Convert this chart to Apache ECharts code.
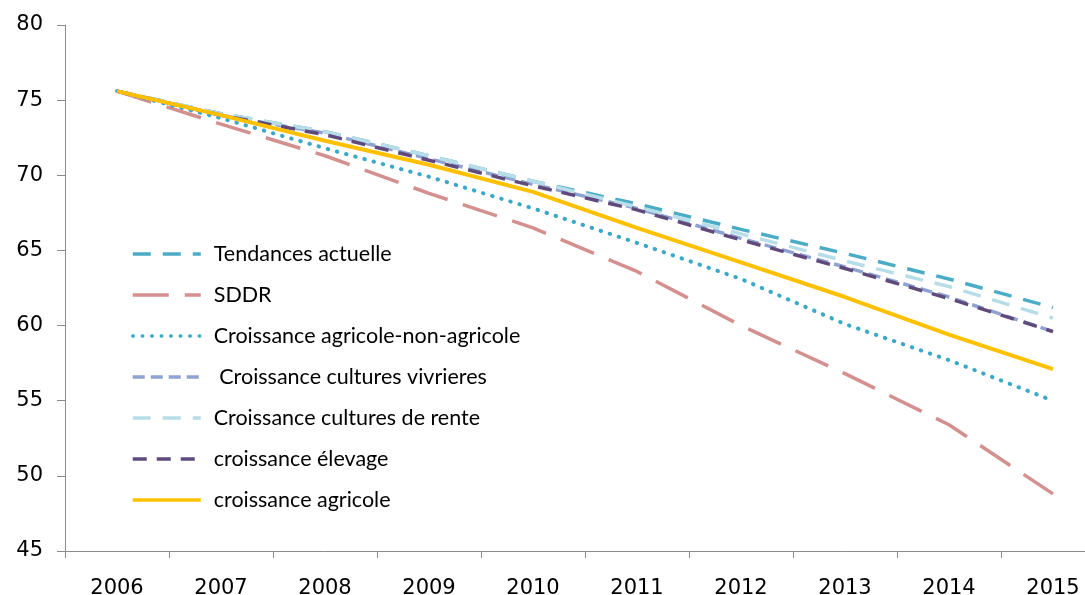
<!DOCTYPE html>
<html>
<head>
<meta charset="utf-8">
<script src="https://cdn.jsdelivr.net/npm/echarts@6/dist/echarts.min.js"></script>
<style>
html,body{margin:0;padding:0;background:#fff;overflow:hidden;width:1085px;height:595px;}
#chart{width:1110px;height:595px;}
</style>
</head>
<body>
<div id="chart"></div>
<script>
const years = ['2006','2007','2008','2009','2010','2011','2012','2013','2014','2015'];
const tendances = [75.6, 74.1, 72.9, 71.3, 69.6, 68.1, 66.4, 64.8, 63.1, 61.2];
const sddr = [75.6, 73.4, 71.3, 68.8, 66.5, 63.6, 60.0, 56.8, 53.4, 48.8];
const agriNonAgri = [75.6, 73.8, 71.8, 69.9, 67.8, 65.5, 63.1, 60.1, 57.7, 55.0];
const vivrieres = [75.6, 74.0, 72.8, 71.1, 69.4, 67.8, 65.8, 63.9, 61.9, 59.6];
const rente = [75.6, 74.1, 72.9, 71.3, 69.6, 67.9, 66.1, 64.3, 62.6, 60.5];
const elevage = [75.6, 74.0, 72.7, 71.0, 69.3, 67.7, 65.7, 63.8, 61.8, 59.6];
const agricole = [75.6, 74.0, 72.3, 70.7, 68.9, 66.5, 64.2, 61.9, 59.4, 57.1];
const yTicks = {min: 45, max: 80, interval: 5};

const names = ['Tendances actuelle','SDDR','Croissance agricole-non-agricole',' Croissance cultures vivrieres','Croissance cultures de rente','croissance élevage','croissance agricole'];

function mk(name, data, color, type, width, cap) {
  return {
    name: name, type: 'line', data: data, symbol: 'none', smooth: false,
    lineStyle: {color: color, width: width, type: type, cap: cap || 'butt'},
    itemStyle: {color: color},
    z: 2
  };
}

const chart = echarts.init(document.getElementById('chart'), null, {renderer: 'canvas', width: 1110, height: 595});
chart.setOption({
  animation: false,
  backgroundColor: '#ffffff',
  grid: {left: 65, top: 25, width: 1040, height: 526, containLabel: false, outerBoundsMode: 'none'},
  xAxis: {
    type: 'category', data: years, boundaryGap: true,
    axisLine: {lineStyle: {color: '#8c8c8c', width: 1}},
    axisTick: {show: true, length: 7, lineStyle: {color: '#8c8c8c'}, alignWithLabel: false},
    axisLabel: {color: '#000', fontSize: 21, fontFamily: '"DejaVu Sans", sans-serif', margin: 27}
  },
  yAxis: {
    type: 'value', min: yTicks.min, max: yTicks.max, interval: yTicks.interval,
    splitLine: {show: false},
    axisLine: {show: true, lineStyle: {color: '#8c8c8c', width: 1}},
    axisTick: {show: true, length: 8, lineStyle: {color: '#8c8c8c'}},
    axisLabel: {color: '#000', fontSize: 21, fontFamily: '"DejaVu Sans", sans-serif', margin: 22}
  },
  legend: {
    orient: 'vertical', left: 126, top: 238,
    itemWidth: 68, itemHeight: 17, itemGap: 19,
    data: names,
    itemStyle: {opacity: 0},
    lineStyle: {width: 3.5},
    textStyle: {color: '#000', fontSize: 21.5, lineHeight: 18, fontFamily: 'Lato, "Open Sans", sans-serif', padding: [0, 0, 0, 8]}
  },
  series: [
    mk(names[0], tendances, '#4bacc6', [18, 12], 3.5),
    mk(names[1], sddr, '#d48f8f', [36, 16], 3.5),
    mk(names[2], agriNonAgri, '#3aa8c8', [0.5, 9], 4, 'round'),
    mk(names[3], vivrieres, '#8ea3d2', [12, 6], 3.5),
    mk(names[4], rente, '#b7dde8', [18, 12], 3.5),
    mk(names[5], elevage, '#604a7b', [14, 10], 3.5),
    mk(names[6], agricole, '#ffc000', 'solid', 4)
  ]
});
</script>
</body>
</html>
